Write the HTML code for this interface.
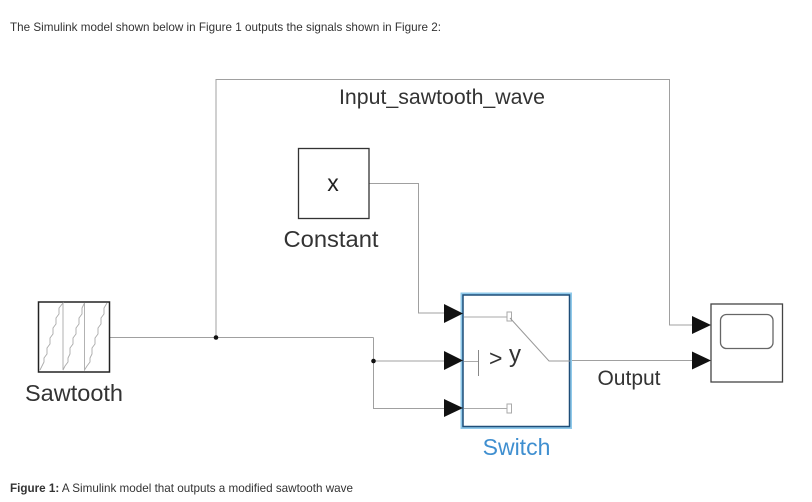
<!DOCTYPE html>
<html>
<head>
<meta charset="utf-8">
<style>
html,body{margin:0;padding:0;background:#fff;width:812px;height:502px;overflow:hidden}
svg{display:block}
text{font-family:"Liberation Sans",Arial,sans-serif}
</style>
</head>
<body>
<svg width="812" height="502" viewBox="0 0 812 502" xmlns="http://www.w3.org/2000/svg">
<rect width="812" height="502" fill="#fff"/>
<text x="10" y="31" font-size="11.600" fill="#333" textLength="431" lengthAdjust="spacingAndGlyphs">The Simulink model shown below in Figure 1 outputs the signals shown in Figure 2:</text>
<g fill="none" stroke="#a0a0a0" stroke-width="1">
<path d="M110 337.500H373.500M216 337.500V79.500H669.500V325H693"/>
<path d="M373.500 337.500V408.500H445"/>
<path d="M373.500 361H445"/>
<path d="M369 183.500H418.500V313H445"/>
<path d="M570 360.500H693"/>
</g>
<circle cx="216" cy="337.500" r="2.300" fill="#111"/>
<circle cx="373.500" cy="361" r="2.300" fill="#111"/>
<!-- Constant -->
<rect x="298.500" y="148.500" width="70.500" height="70" fill="#fff" stroke="#333" stroke-width="1.300"/>
<text x="333" y="191" font-size="23" fill="#222" text-anchor="middle">x</text>
<text x="331" y="247" font-size="23" fill="#333" text-anchor="middle" textLength="95" lengthAdjust="spacingAndGlyphs">Constant</text>
<text x="442" y="104" font-size="21.500" fill="#333" text-anchor="middle" textLength="206" lengthAdjust="spacingAndGlyphs">Input_sawtooth_wave</text>
<!-- Sawtooth -->
<rect x="38.500" y="302" width="71" height="70" fill="#fff" stroke="#222" stroke-width="1.500"/>
<path d="M40 370L42 366L44 362V358L47 354V348L50 344V338L53 334V328L56 324V318L59 314V308L63 303V370L65 366L68 362V358L70 354V348L73 344V338L76 334V328L79 324V318L82 314V308L84.500 303V370L87 366L90 362V358L92 354V348L95 344V338L98 334V328L101 324V318L104 314V308L107 303" fill="none" stroke="#aaa" stroke-width="0.900"/>
<text x="74" y="401" font-size="23" fill="#333" text-anchor="middle" textLength="98" lengthAdjust="spacingAndGlyphs">Sawtooth</text>
<!-- Switch -->
<rect x="462" y="294" width="108.500" height="133.500" fill="#fff" stroke="#8fc9ea" stroke-width="3"/>
<rect x="463" y="295" width="106.500" height="131.500" fill="#fff" stroke="#1f4e79" stroke-width="1.500"/>
<g fill="none" stroke="#aaa" stroke-width="1">
<path d="M464 317H507M464 408.500H507M464 361.500H478"/>
<path d="M478.500 350V376" stroke="#888"/>
<rect x="507" y="312" width="4.500" height="9" fill="#fff"/>
<rect x="507" y="404" width="4.500" height="9" fill="#fff"/>
<path d="M510 318L549 361H570" stroke="#999"/>
</g>
<text x="489" y="366" font-size="23" fill="#333">&gt;</text>
<text x="509" y="362" font-size="24" fill="#333">y</text>
<text x="516.500" y="455" font-size="23" fill="#3f8fd0" text-anchor="middle">Switch</text>
<g fill="#111">
<path d="M444 304L463 313.500L444 323Z"/>
<path d="M444 351L463 360.500L444 370Z"/>
<path d="M444 399L463 408L444 417Z"/>
</g>
<!-- Scope -->
<rect x="711" y="304" width="71.500" height="78" fill="#fff" stroke="#444" stroke-width="1.300"/>
<rect x="720.500" y="314.500" width="52.500" height="34" rx="6" fill="#fff" stroke="#666" stroke-width="1.300"/>
<g fill="#111">
<path d="M692 316L711 325L692 334Z"/>
<path d="M692 351.500L711 360.500L692 369.500Z"/>
</g>
<text x="629" y="385" font-size="21" fill="#333" text-anchor="middle">Output</text>
<text x="10" y="492" font-size="11.600" fill="#333" textLength="343" lengthAdjust="spacingAndGlyphs"><tspan font-weight="bold">Figure 1:</tspan> A Simulink model that outputs a modified sawtooth wave</text>
</svg>
</body>
</html>
